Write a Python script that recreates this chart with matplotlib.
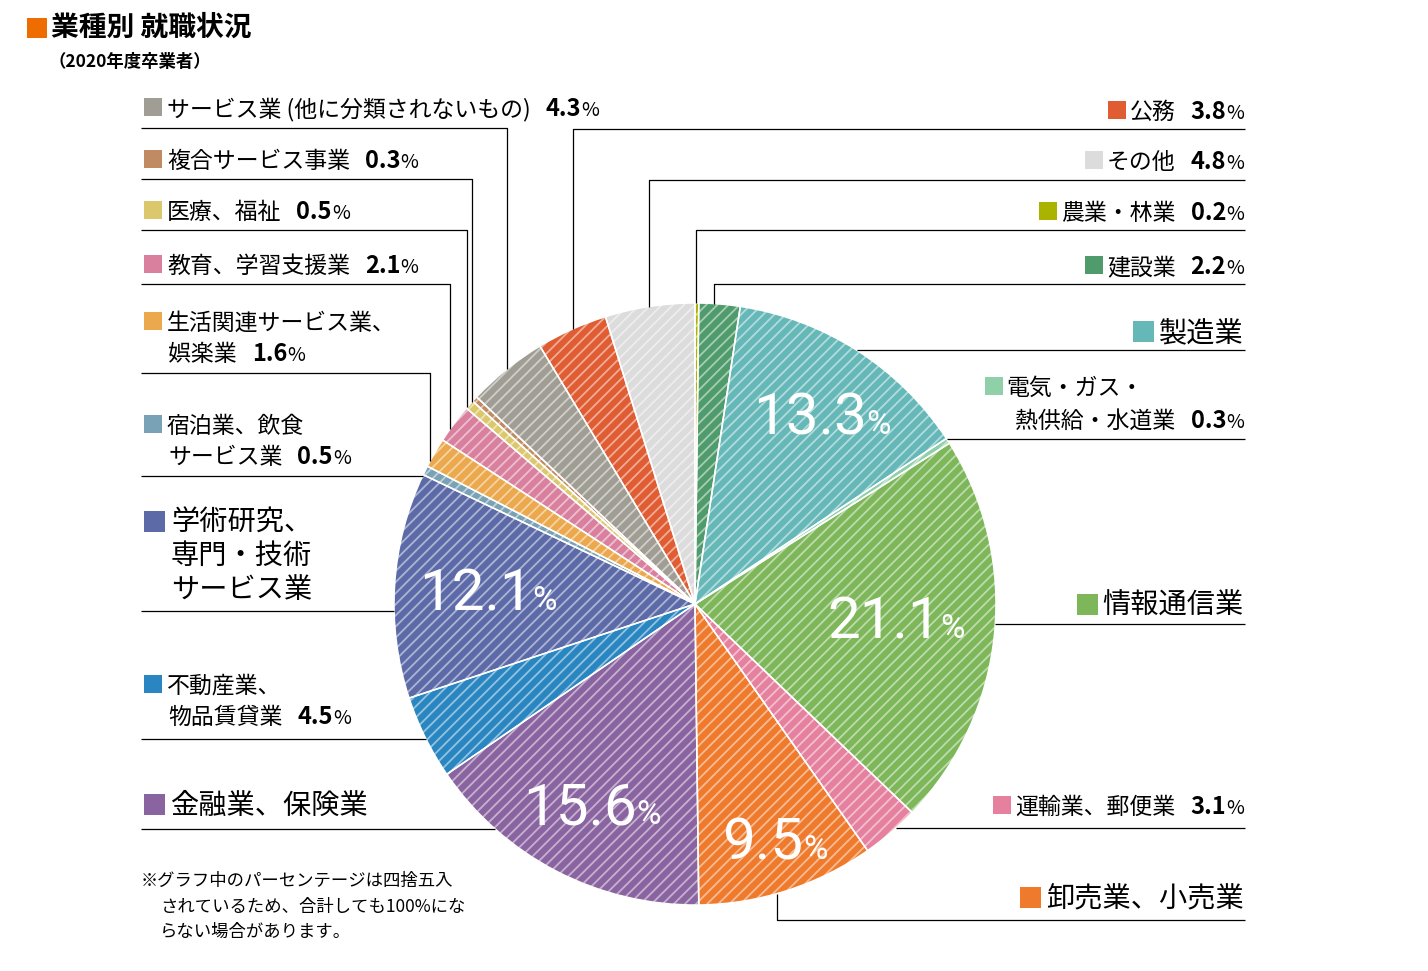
import numpy as np
import matplotlib
matplotlib.use('Agg')
import matplotlib.pyplot as plt
from matplotlib.patches import Rectangle

plt.rcParams['font.family'] = ['Noto Sans CJK JP', 'DejaVu Sans']
plt.rcParams['hatch.linewidth'] = 1.3

# data (clockwise from 12 o'clock)
industries = ['農業・林業', '建設業', '製造業', '電気・ガス・熱供給・水道業', '情報通信業',
              '運輸業、郵便業', '卸売業、小売業', '金融業、保険業', '不動産業、物品賃貸業',
              '学術研究、専門・技術サービス業', '宿泊業、飲食サービス業', '生活関連サービス業、娯楽業',
              '教育、学習支援業', '医療、福祉', '複合サービス事業', 'サービス業 (他に分類されないもの)',
              '公務', 'その他']
shares = [0.2, 2.2, 13.3, 0.3, 21.1, 3.1, 9.5, 15.6, 4.5, 12.1, 0.5, 1.6, 2.1, 0.5, 0.3, 4.3, 3.8, 4.8]
colors = ['#a9b300', '#4f9b6c', '#66b8b8', '#8fd0a8', '#7db75a', '#e5809f', '#ef7a2c',
          '#8a64a0', '#2a86c0', '#5c6aa8', '#7aa2b6', '#eba84c', '#d9809f', '#dcc86c',
          '#c08a62', '#a09e94', '#e05c32', '#dcdcdc']

W, H = 1428, 971
fig = plt.figure(figsize=(W / 100, H / 100), dpi=100)
ax = fig.add_axes([0, 0, 1, 1])

def Y(y):
    return H - y

cx, cy, R = 695, 604, 301

ax.pie(shares, colors=colors, startangle=90, counterclock=False,
       center=(cx, Y(cy)), radius=R, hatch='///',
       wedgeprops=dict(edgecolor=(1, 1, 1, 0.5), linewidth=0))
ax.pie(shares, colors=['none'] * len(shares), startangle=90, counterclock=False,
       center=(cx, Y(cy)), radius=R,
       wedgeprops=dict(edgecolor='white', linewidth=1.1))
ax.set_xlim(0, W)
ax.set_ylim(0, H)
ax.set_aspect('auto')
ax.axis('off')

renderer = fig.canvas.get_renderer()
JP = ['Noto Sans CJK JP', 'DejaVu Sans']
BIG = ['Liberation Sans Narrow', 'Roboto', 'DejaVu Sans']


def put(x, y, parts, ha='left', color='black', family=JP):
    # parts: (text, size, weight) or a number = gap in px
    items = []
    for p in parts:
        if isinstance(p, (int, float)):
            items.append((None, p))
        else:
            s, fs, fw = p
            t = ax.text(0, Y(y), s, fontsize=fs, fontweight=fw, family=family,
                        color=color, va='baseline', ha='left')
            items.append((t, t.get_window_extent(renderer).width))
    total = sum(w for _, w in items)
    x0 = x if ha == 'left' else (x - total if ha == 'right' else x - total / 2)
    for t, w in items:
        if t is not None:
            t.set_x(x0)
        x0 += w
    return x0 - total


def square(x, y, c, s=18):
    ax.add_patch(Rectangle((x, Y(y + s / 2)), s, s, color=c, lw=0))


def line(xs, ys):
    ax.plot(xs, [Y(v) for v in ys], color='black', lw=0.9, solid_capstyle='butt')


def edge_y(x):
    return cy - np.sqrt(R ** 2 - (x - cx) ** 2)


def edge_x(y, side):
    return cx + side * np.sqrt(R ** 2 - (y - cy) ** 2)


# title
ax.add_patch(Rectangle((27, Y(38)), 20, 20, color='#ef6c00', lw=0))
ax.text(51, Y(28), '業種別 就職状況', fontsize=20, fontweight='bold', va='center', ha='left')
ax.text(48, Y(62), '（2020年度卒業者）', fontsize=12.5, fontweight='bold', va='center', ha='left')

S, B, P = 16.5, 17, 14   # label, bold number, percent sizes
L = 20.3                 # large label

# ---- left labels ----
def left_label(row_y, lines_, ci, pct=None, size=S, sq=18):
    square(144, row_y[0] - 1, colors[ci], sq)
    for i, (yy, txt) in enumerate(zip(row_y, lines_)):
        parts = [(txt, size, 'normal')]
        if pct is not None and i == len(lines_) - 1:
            parts += [15, (pct, B, 'bold'), ('%', P, 'normal')]
        put(167 if i == 0 else 168, yy + 8, parts)

left_label([108], [industries[15]], 15, '4.3')
left_label([160], ['複合サービス事業'], 14, '0.3')
left_label([211], ['医療、福祉'], 13, '0.5')
left_label([265], ['教育、学習支援業'], 12, '2.1')
left_label([322, 353], ['生活関連サービス業、', '娯楽業'], 11, '1.6')
left_label([425, 456], ['宿泊業、飲食', 'サービス業'], 10, '0.5')
square(144, 521, colors[9], 21)
for yy, txt in zip([521, 554, 588], ['学術研究、', '専門・技術', 'サービス業']):
    put(171, yy + 10, [(txt, L, 'normal')])
left_label([685, 716], ['不動産業、', '物品賃貸業'], 8, '4.5')
square(144, 804, colors[7], 21)
put(171, 814, [('金融業、保険業', L, 'normal')])

# left leader lines
for ly, lx in [(128, 507), (179, 472), (230, 467), (284, 450), (373, 430)]:
    line([141, lx, lx], [ly, ly, edge_y(lx)])
for ly in [476, 611, 739, 829]:
    line([141, edge_x(ly, -1)], [ly, ly])

# ---- right labels ----
RX = 1244

def right_label(yy, txt, ci, pct):
    x0 = put(RX, yy + 8, [(txt, S, 'normal'), 15, (pct, B, 'bold'), ('%', P, 'normal')], ha='right')
    square(x0 - 22, yy - 1, colors[ci])

right_label(111, '公務', 16, '3.8')
right_label(161, 'その他', 17, '4.8')
right_label(212, '農業・林業', 0, '0.2')
right_label(266, '建設業', 1, '2.2')
x0 = put(RX, 341, [('製造業', L, 'normal')], ha='right')
square(x0 - 26, 331, colors[2], 21)
put(1006, 395, [('電気・ガス・', S, 'normal')])
square(985, 386, colors[3])
put(RX, 428, [('熱供給・水道業', S, 'normal'), 15, ('0.3', B, 'bold'), ('%', P, 'normal')], ha='right')
x0 = put(RX, 614, [('情報通信業', L, 'normal')], ha='right')
square(x0 - 26, 604, colors[4], 21)
right_label(806, '運輸業、郵便業', 5, '3.1')
x0 = put(RX, 907, [('卸売業、小売業', L, 'normal')], ha='right')
square(x0 - 26, 897, colors[6], 21)

# right leader lines
for ly, lx in [(129, 573), (180, 649), (230, 696), (284, 714)]:
    line([1245, lx, lx], [ly, ly, edge_y(lx)])
for ly in [350, 439, 624, 828]:
    line([1245, edge_x(ly, 1)], [ly, ly])
line([1245, 777, 777], [920, 920, cy + np.sqrt(R ** 2 - (777 - cx) ** 2)])

# big in-pie percentages
for (bx, by), ci in zip([(822, 434), (896, 638), (775, 859), (592, 824), (488, 610)],
                        [2, 4, 6, 7, 9]):
    put(bx, by, [(f'{shares[ci]:.1f}', 42, 'normal'), ('%', 24, 'normal')],
        ha='center', color='white', family=BIG)

# footnote
note = ['※グラフ中のパーセンテージは四捨五入', 'されているため、合計しても100%にな', 'らない場合があります。']
for i, (yy, txt) in enumerate(zip([880, 906, 931], note)):
    put(141 if i == 0 else 160, yy + 6, [(txt, 12.5, 'normal')])

fig.savefig('out.png', dpi=100)
